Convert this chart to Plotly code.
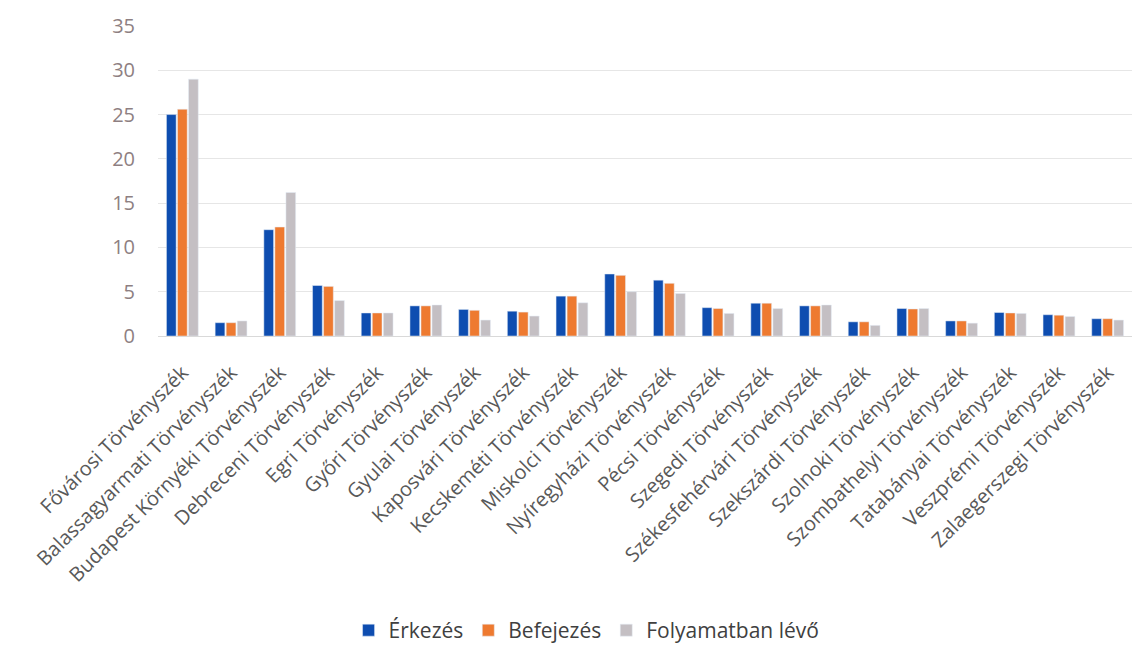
import plotly.graph_objects as go

categories = [
    "Fővárosi Törvényszék", "Balassagyarmati Törvényszék", "Budapest Környéki Törvényszék",
    "Debreceni Törvényszék", "Egri Törvényszék", "Győri Törvényszék", "Gyulai Törvényszék",
    "Kaposvári Törvényszék", "Kecskeméti Törvényszék", "Miskolci Törvényszék",
    "Nyíregyházi Törvényszék", "Pécsi Törvényszék", "Szegedi Törvényszék",
    "Székesfehérvári Törvényszék", "Szekszárdi Törvényszék", "Szolnoki Törvényszék",
    "Szombathelyi Törvényszék", "Tatabányai Törvényszék", "Veszprémi Törvényszék",
    "Zalaegerszegi Törvényszék",
]
erkezes = [25.0, 1.5, 12.0, 5.7, 2.6, 3.4, 3.0, 2.8, 4.5, 7.0, 6.3, 3.2, 3.7, 3.4, 1.6, 3.1, 1.7, 2.65, 2.4, 1.95]
befejezes = [25.6, 1.5, 12.3, 5.6, 2.6, 3.4, 2.9, 2.7, 4.5, 6.85, 5.95, 3.1, 3.7, 3.4, 1.6, 3.05, 1.7, 2.6, 2.35, 1.95]
folyamatban = [29.0, 1.7, 16.2, 4.0, 2.6, 3.5, 1.8, 2.25, 3.75, 5.0, 4.8, 2.55, 3.1, 3.5, 1.2, 3.1, 1.45, 2.55, 2.2, 1.8]
y_ticks = [0, 5, 10, 15, 20, 25, 30, 35]

fig = go.Figure()
fig.add_trace(go.Bar(name="Érkezés", x=categories, y=erkezes, marker_color="#0E4DB0"))
fig.add_trace(go.Bar(name="Befejezés", x=categories, y=befejezes, marker_color="#EE7A30"))
fig.add_trace(go.Bar(name="Folyamatban lévő", x=categories, y=folyamatban, marker_color="#C4BFC3"))

fig.update_layout(
    width=1147, height=664,
    margin=dict(l=150, r=23, t=18, b=336),
    paper_bgcolor="white", plot_bgcolor="white",
    barmode="group", bargap=0.32, bargroupgap=0.12,
    font=dict(family="Open Sans", color="#404040"),
    legend=dict(orientation="h", x=0.44, xanchor="center", y=-0.95, yanchor="middle",
                font=dict(size=21, color="#404040"), itemwidth=30, traceorder="normal"),
    showlegend=True,
)
fig.update_xaxes(tickangle=-45, tickfont=dict(size=20, color="#595959"), automargin=False,
                 showline=True, linecolor="#D9D9D9", ticks="", ticklabelstandoff=16)
fig.update_yaxes(range=[0, 35], tickvals=y_ticks, tickfont=dict(size=20, color="#8E7F82"),
                 showgrid=True, gridcolor="#E6E6E6", zeroline=False, automargin=False, ticklabelstandoff=22)
fig.write_html("out.html")
